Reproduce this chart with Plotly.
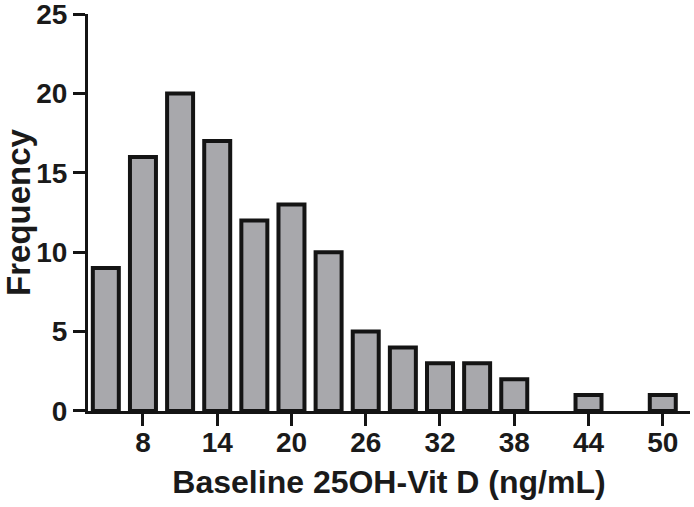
import plotly.graph_objects as go

bin_centers = [5, 8, 11, 14, 17, 20, 23, 26, 29, 32, 35, 38, 41, 44, 47, 50]
frequency = [9, 16, 20, 17, 12, 13, 10, 5, 4, 3, 3, 2, 0, 1, 0, 1]
x_ticks = [8, 14, 20, 26, 32, 38, 44, 50]
y_ticks = [0, 5, 10, 15, 20, 25]

font_family = "Liberation Sans, Arial, sans-serif"

fig = go.Figure(go.Bar(
    x=bin_centers,
    y=[v if v else None for v in frequency],
    width=2.1,
    marker=dict(color="#a8a8ac", line=dict(color="#141414", width=4)),
))

fig.update_layout(
    width=694, height=507,
    margin=dict(l=88, r=4, t=14, b=96, autoexpand=False),
    paper_bgcolor="white", plot_bgcolor="white",
    showlegend=False,
    font=dict(family=font_family, color="#1a1a1a"),
)

fig.update_xaxes(
    range=[3.56, 52.2],
    tickvals=x_ticks,
    ticks="outside", ticklen=12, tickwidth=3, tickcolor="#141414",
    showline=True, linecolor="#141414", linewidth=3,
    showgrid=False, zeroline=False,
    ticklabelstandoff=-8,
    tickfont=dict(size=28, family=font_family, weight="bold"),
    title=dict(text="Baseline 25OH-Vit D (ng/mL)",
               font=dict(size=32, family=font_family, weight="bold"),
               standoff=15),
)
fig.update_yaxes(
    range=[-0.001, 25.001],
    tickvals=y_ticks,
    ticks="outside", ticklen=12, tickwidth=3, tickcolor="#141414",
    showline=True, linecolor="#141414", linewidth=3,
    showgrid=False, zeroline=False,
    ticklabeloverflow="allow",
    tickfont=dict(size=28, family=font_family, weight="bold"),
    title=dict(text="Frequency",
               font=dict(size=33, family=font_family, weight="bold"),
               standoff=8),
)

fig.write_html("out.html", config={"displayModeBar": False},
               post_script="document.body.style.margin='0';")
